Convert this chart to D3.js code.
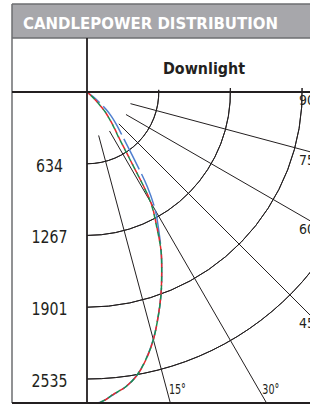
<!doctype html>
<html>
<head>
<meta charset="utf-8"/>
<script src="https://cdnjs.cloudflare.com/ajax/libs/d3/7.8.5/d3.min.js"></script>
<style>
  body { margin: 0; background: #fff; }
  svg { display: block; }
  text { font-family: "Liberation Sans Narrow", "DejaVu Sans Condensed", "Roboto", sans-serif; fill: #231f20; }
  .frame { stroke: #6d6e71; stroke-width: 1.5px; fill: none; }
  .axis { stroke: #231f20; stroke-width: 1.8px; fill: none; }
  .grid { stroke: #231f20; stroke-width: 1px; fill: none; }
</style>
</head>
<body>
<svg width="310" height="404"></svg>
<script>
// candela ring labels and the angles of the radial guides
var rings = [634, 1267, 1901, 2535];
var guideAngles = [15, 30, 45, 60, 75];
var edgeLabels = [90, 75, 60, 45];
var bottomLabels = [15, 30];

// measured angles (deg from nadir) and candela for each curve
var angles = [0, 2.5, 5, 7.5, 10, 12.5, 15, 17.5, 20, 22.5, 25, 27.5, 30, 32.5, 35, 37.5, 40, 42.5, 45, 47.5, 50, 52.5, 55];
var blueCd  = [2750, 2742, 2682, 2626, 2540, 2414, 2262, 2087, 1910, 1726, 1550, 1370, 1207, 992, 730, 559, 456, 376, 305, 230, 141, 70, 0];
var redCd   = [2752, 2744, 2680, 2625, 2541, 2416, 2265, 2086, 1908, 1724, 1547, 1330, 1128, 708, 490, 390, 308, 236, 142, 72, 20, 0, 0];
var greenCd = [2750, 2741, 2680, 2626, 2540, 2414, 2264, 2087, 1910, 1724, 1547, 1326, 1123, 704, 483, 385, 304, 234, 141, 70, 18, 0, 0];

var svg = d3.select("svg");
var W = 310;
var frameL = 12, frameT = 4, headB = 38, ox = 87, oy = 92, frameB = 403;

var r = d3.scaleLinear().domain([0, 2535]).range([0, 287]);
var rad = d => d * Math.PI / 180;

// header band
svg.append("rect").attr("x", frameL).attr("y", frameT).attr("width", W - frameL).attr("height", headB - frameT)
  .attr("fill", "#a7a7ab");
svg.append("text").attr("x", 23).attr("y", 28.5)
  .attr("textLength", 255).attr("lengthAdjust", "spacingAndGlyphs")
  .style("font-size", "16.5px").style("font-weight", "bold").style("fill", "#fff")
  .text("CANDLEPOWER DISTRIBUTION");

svg.append("text").attr("x", 163).attr("y", 74)
  .attr("textLength", 82).attr("lengthAdjust", "spacingAndGlyphs")
  .style("font-size", "16.5px").style("font-weight", "bold")
  .text("Downlight");

// frame lines
svg.append("line").attr("class", "frame").attr("x1", frameL).attr("x2", W).attr("y1", frameT).attr("y2", frameT);
svg.append("line").attr("class", "frame").attr("x1", frameL).attr("x2", frameL).attr("y1", frameT).attr("y2", frameB);
svg.append("line").attr("class", "frame").attr("x1", frameL).attr("x2", W).attr("y1", headB).attr("y2", headB);

// polar plot
svg.append("clipPath").attr("id", "plot").append("rect")
  .attr("x", ox).attr("y", oy - 4).attr("width", W - ox).attr("height", frameB - oy + 4);

var g = svg.append("g").attr("clip-path", "url(#plot)")
  .append("g").attr("transform", "translate(" + ox + "," + oy + ")");

var ring = d3.arc().startAngle(Math.PI / 2 - 0.03).endAngle(Math.PI);
g.selectAll(".ring").data(rings).enter().append("path")
  .attr("class", "grid")
  .attr("d", d => ring({innerRadius: r(d), outerRadius: r(d)}));

g.selectAll(".guide").data(guideAngles).enter().append("line")
  .attr("class", "grid")
  .attr("x1", d => 45 * Math.sin(rad(d))).attr("y1", d => 45 * Math.cos(rad(d)))
  .attr("x2", d => 600 * Math.sin(rad(d))).attr("y2", d => 600 * Math.cos(rad(d)));

var curve = d3.lineRadial()
  .angle(d => Math.PI - rad(d[0]))
  .radius(d => r(d[1]))
  .curve(d3.curveCatmullRom);

var series = [
  {cd: blueCd, color: "#4f7fd0", dash: "34,5", off: 0},
  {cd: redCd, color: "#e8272b", dash: "5,4", off: 0},
  {cd: greenCd, color: "#1e8a4c", dash: "5,4", off: 4.5}
];
series.forEach(s => {
  g.append("path")
    .attr("d", curve(angles.map((a, i) => [a, s.cd[i]])))
    .attr("fill", "none")
    .attr("stroke", s.color)
    .attr("stroke-width", 1.5)
    .attr("stroke-dasharray", s.dash)
    .attr("stroke-dashoffset", s.off);
});

// axes of the polar plot
svg.append("line").attr("class", "axis").attr("x1", frameL).attr("x2", W).attr("y1", oy).attr("y2", oy);
svg.append("line").attr("class", "axis").attr("x1", ox).attr("x2", ox).attr("y1", headB).attr("y2", frameB);
svg.append("line").attr("class", "axis").attr("x1", frameL).attr("x2", W).attr("y1", frameB).attr("y2", frameB);

// candela labels in the left column
svg.selectAll(".cdlab").data(rings).enter().append("text")
  .attr("x", (frameL + ox) / 2).attr("y", d => oy + r(d) + 8)
  .attr("text-anchor", "middle")
  .attr("textLength", d => String(d).length * 9).attr("lengthAdjust", "spacingAndGlyphs")
  .style("font-size", "17.5px")
  .text(d => d);

// angle labels
svg.selectAll(".blab").data(bottomLabels).enter().append("text")
  .attr("x", d => ox + (frameB - 9 - oy) * Math.tan(rad(d)) + 1)
  .attr("y", frameB - 9)
  .attr("textLength", 17).attr("lengthAdjust", "spacingAndGlyphs")
  .style("font-size", "14px")
  .text(d => d + "°");

svg.selectAll(".elab").data(edgeLabels).enter().append("text")
  .attr("x", 299)
  .attr("y", d => oy + (W - ox) / Math.tan(rad(d)) + 13)
  .attr("textLength", 16).attr("lengthAdjust", "spacingAndGlyphs")
  .style("font-size", "14px")
  .text(d => d);
</script>
</body>
</html>
